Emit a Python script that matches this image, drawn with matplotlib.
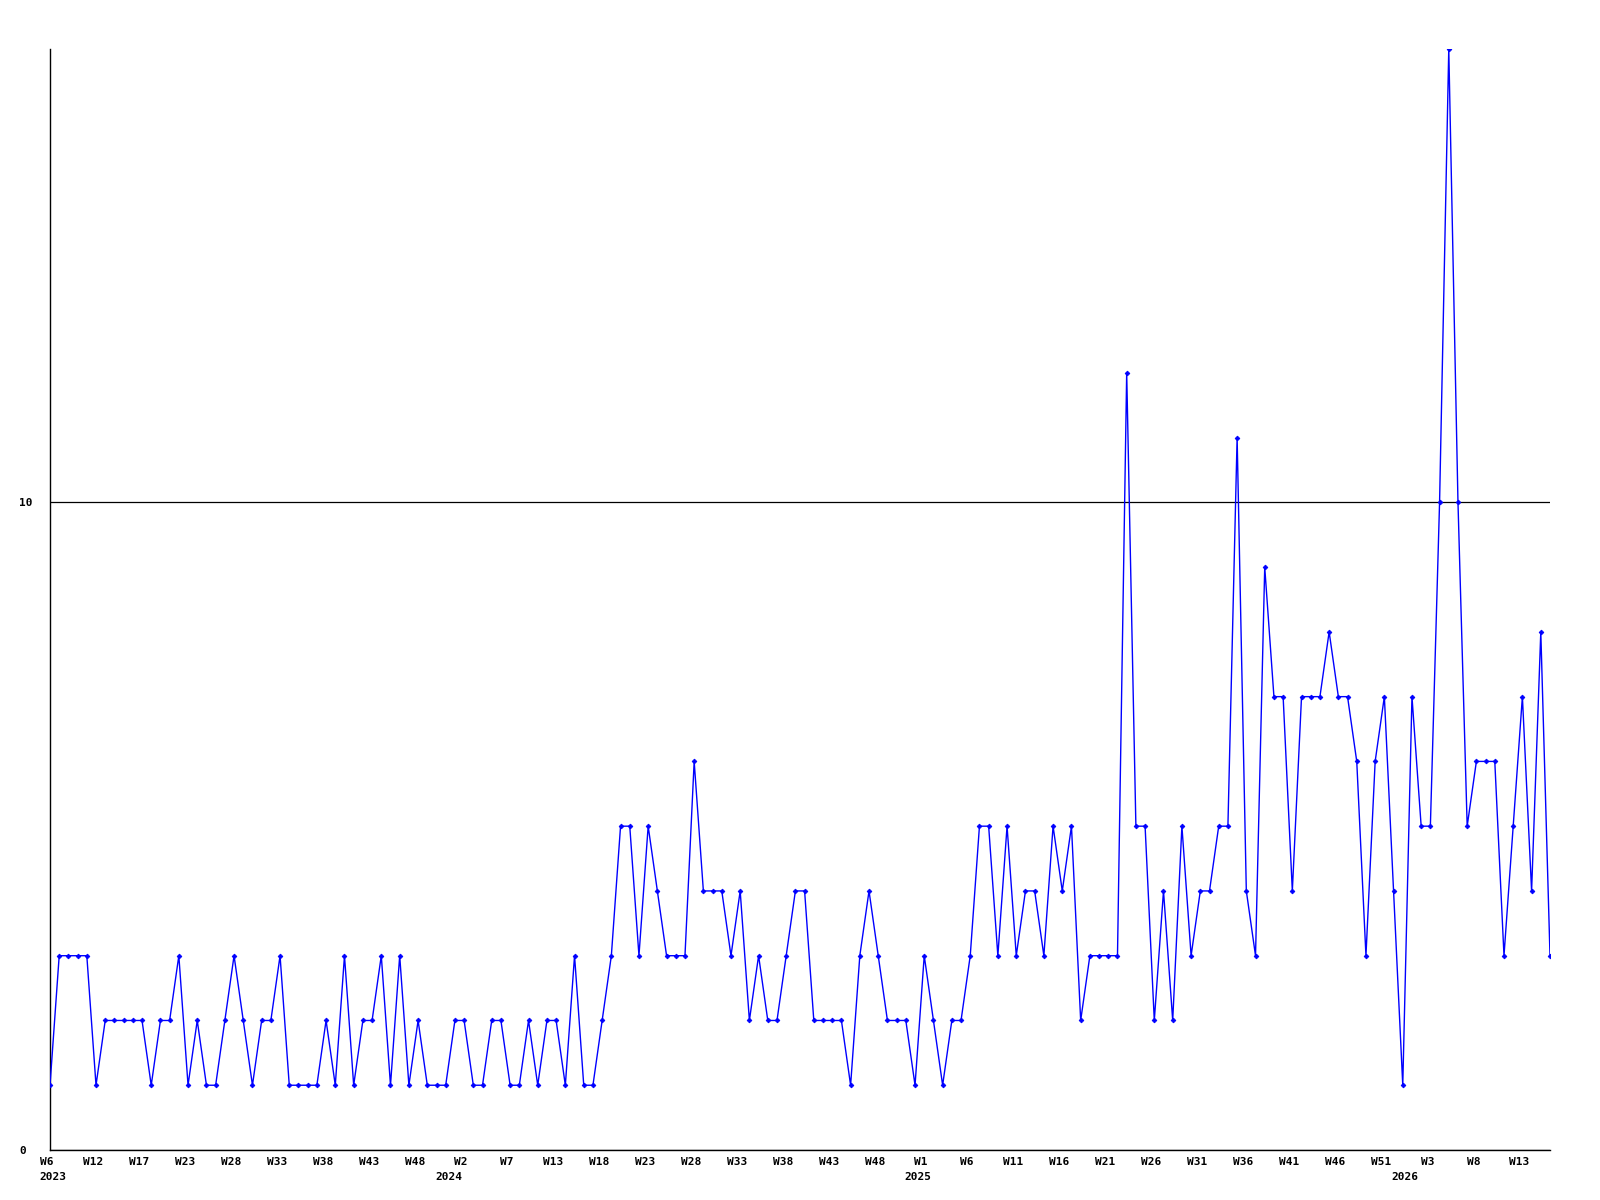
import matplotlib
matplotlib.use("Agg")
import matplotlib.pyplot as plt
from matplotlib.transforms import ScaledTranslation

# weekly counts, one point per sample
values = [1, 3, 3, 3, 3, 1, 2, 2, 2, 2, 2, 1, 2, 2, 3, 1, 2, 1, 1, 2,
          3, 2, 1, 2, 2, 3, 1, 1, 1, 1, 2, 1, 3, 1, 2, 2, 3, 1, 3, 1,
          2, 1, 1, 1, 2, 2, 1, 1, 2, 2, 1, 1, 2, 1, 2, 2, 1, 3, 1, 1,
          2, 3, 5, 5, 3, 5, 4, 3, 3, 3, 6, 4, 4, 4, 3, 4, 2, 3, 2, 2,
          3, 4, 4, 2, 2, 2, 2, 1, 3, 4, 3, 2, 2, 2, 1, 3, 2, 1, 2, 2,
          3, 5, 5, 3, 5, 3, 4, 4, 3, 5, 4, 5, 2, 3, 3, 3, 3, 12, 5, 5,
          2, 4, 2, 5, 3, 4, 4, 5, 5, 11, 4, 3, 9, 7, 7, 4, 7, 7, 7, 8,
          7, 7, 6, 3, 6, 7, 4, 1, 7, 5, 5, 10, 17, 10, 5, 6, 6, 6, 3, 5,
          7, 4, 8, 3]

week_labels = ["W6", "W12", "W17", "W23", "W28", "W33", "W38", "W43", "W48",
               "W2", "W7", "W13", "W18", "W23", "W28", "W33", "W38", "W43",
               "W48", "W1", "W6", "W11", "W16", "W21", "W26", "W31", "W36",
               "W41", "W46", "W51", "W3", "W8", "W13"]
week_pos = list(range(0, 5 * len(week_labels), 5))

year_labels = ["2023", "2024", "2025", "2026"]
year_pos = [0.3, 43.3, 94.3, 147.2]

fig = plt.figure(figsize=(16, 12), dpi=100)
ax = fig.add_axes([50 / 1600, 1 - 1150 / 1200, 1500 / 1600, 1101 / 1200])

x = list(range(len(values)))
ax.plot(x, values, color="#0000ff", lw=1.0, marker="D", markersize=2.4,
        markeredgewidth=0.6, zorder=3)

ax.set_xlim(0, len(values) - 1)
ax.set_ylim(0, 17)

for s in ["top", "right"]:
    ax.spines[s].set_visible(False)
for s in ["left", "bottom"]:
    ax.spines[s].set_color("black")
    ax.spines[s].set_linewidth(1)

font = dict(family="DejaVu Sans Mono", weight="bold", size=8)

ax.set_yticks([0, 10])
ax.set_yticklabels(["0", "10"], **font)
for t in ax.get_yticklabels():
    t.set_horizontalalignment("left")
ax.tick_params(axis="y", length=0, pad=22)
ax.yaxis.grid(True, color="black", lw=0.9)
ax.set_axisbelow(True)

ax.set_xticks(week_pos)
ax.set_xticklabels(week_labels, **font)
ax.set_xticks(year_pos, minor=True)
ax.set_xticklabels(year_labels, minor=True, **font)
ax.tick_params(axis="x", which="major", length=0, pad=5)
ax.tick_params(axis="x", which="minor", length=0, pad=16)

shift = ScaledTranslation(-3 / 100, 0, fig.dpi_scale_trans)
for t in ax.get_xticklabels():
    t.set_transform(t.get_transform() + shift)

fig.savefig("out.png", dpi=100)
